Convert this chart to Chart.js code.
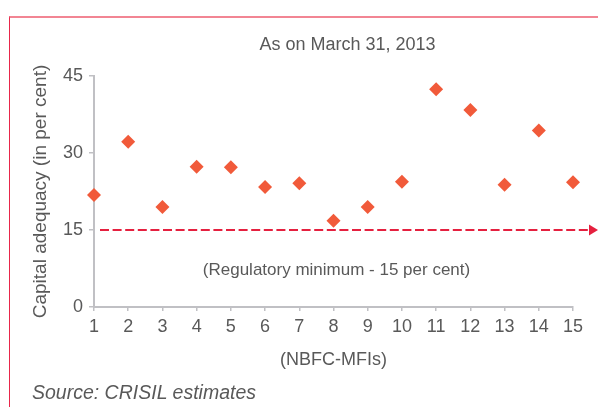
<!DOCTYPE html>
<html>
<head>
<meta charset="utf-8">
<script src="https://cdn.jsdelivr.net/npm/chart.js@4.4.0/dist/chart.umd.min.js"></script>
<style>
  html, body { margin: 0; padding: 0; background: #fff; }
  #wrap { position: relative; width: 598px; height: 407px; overflow: hidden; }
  /* red frame round the exhibit (only top and left are visible) */
  #frame { position: absolute; left: 9px; top: 16px; width: 620px; height: 420px;
           border-top: 2px solid #f28593; border-left: 1px solid #e8264a; }
  #my_chart { position: absolute; left: 0; top: 0; }
  #source { position: absolute; left: 32px; top: 381px; color: #595959;
            font: italic 19.5px "Liberation Sans", Arial, sans-serif; }
</style>
</head>
<body>
<div id="wrap">
  <div id="frame"></div>
  <canvas id="my_chart" width="598" height="407"></canvas>
  <div id="source">Source: CRISIL estimates</div>
</div>
<script>
  'use strict';

  // データ (NBFC-MFI 1..15)
  const categories = [1, 2, 3, 4, 5, 6, 7, 8, 9, 10, 11, 12, 13, 14, 15];
  const capitalAdequacy = [21.8, 32.2, 19.5, 27.3, 27.2, 23.4, 24.1, 16.8, 19.5, 24.4, 42.4, 38.4, 23.8, 34.4, 24.3];
  const yTicks = [0, 15, 30, 45];
  const regulatoryMin = 15;
  const regulatoryLabel = '(Regulatory minimum - 15 per cent)';
  const chartTitle = 'As on March 31, 2013';

  const FONT = '"Liberation Sans", Arial, sans-serif';
  const GREY_TEXT = '#595959';
  const AXIS_GREY = '#c0c0c4';

  // title + dashed 15% line with arrow head + its caption
  const minLinePlugin = {
    id: 'minLine',
    beforeDatasetsDraw(chart) {
      const ctx = chart.ctx;
      const area = chart.chartArea;
      const midX = (area.left + area.right) / 2;
      const y = chart.scales.y.getPixelForValue(regulatoryMin);
      const x0 = area.left + 6;
      const tip = chart.width;
      const x1 = tip - 9;
      ctx.save();
      ctx.strokeStyle = '#e5203f';
      ctx.lineWidth = 2.2;
      ctx.setLineDash([9, 3.6]);
      ctx.beginPath();
      ctx.moveTo(x0, y);
      ctx.lineTo(x1, y);
      ctx.stroke();
      ctx.setLineDash([]);
      ctx.fillStyle = '#e5203f';
      ctx.beginPath();
      ctx.moveTo(x1, y - 5.5);
      ctx.lineTo(tip, y);
      ctx.lineTo(x1, y + 5.5);
      ctx.closePath();
      ctx.fill();
      // caption
      ctx.fillStyle = GREY_TEXT;
      ctx.font = '17px ' + FONT;
      ctx.textAlign = 'center';
      ctx.textBaseline = 'middle';
      ctx.fillText(regulatoryLabel, midX + 3, y + 40);
      // chart title
      ctx.font = '18px ' + FONT;
      ctx.fillText(chartTitle, midX + 14, area.top - 31);
      ctx.restore();
    }
  };

  const points = categories.map((c, i) => ({ x: c, y: capitalAdequacy[i] }));

  const ctx = document.getElementById('my_chart').getContext('2d');
  const myChart = new Chart(ctx, {
    type: 'scatter',
    data: {
      datasets: [{
        data: points,
        pointStyle: 'rectRot',
        pointRadius: 7,
        pointBackgroundColor: '#f15a3a',
        pointBorderWidth: 0,
        clip: false
      }]
    },
    options: {
      responsive: false,
      animation: false,
      layout: { padding: { left: 25, right: 25, top: 76, bottom: 32 } },
      plugins: {
        legend: { display: false },
        tooltip: { enabled: false },
        title: { display: false }
      },
      scales: {
        x: {
          type: 'linear',
          min: 1,
          max: 15,
          afterBuildTicks: (scale) => { scale.ticks = categories.map(v => ({ value: v })); },
          afterFit: (scale) => { scale.height = 68; },
          grid: { drawOnChartArea: false, drawTicks: true, tickLength: 4, color: AXIS_GREY, lineWidth: 1.5 },
          border: { color: AXIS_GREY, width: 2 },
          ticks: { color: GREY_TEXT, font: { family: FONT, size: 18 }, padding: 5, maxRotation: 0, autoSkip: false },
          title: { display: true, text: '(NBFC-MFIs)', color: GREY_TEXT, font: { family: FONT, size: 18 } }
        },
        y: {
          min: 0,
          max: 45,
          afterBuildTicks: (scale) => { scale.ticks = yTicks.map(v => ({ value: v })); },
          afterFit: (scale) => { scale.width = 69; },
          grid: { drawOnChartArea: false, drawTicks: true, tickLength: 5, color: AXIS_GREY, lineWidth: 1.5 },
          border: { color: AXIS_GREY, width: 2 },
          ticks: { color: GREY_TEXT, font: { family: FONT, size: 18 }, padding: 6 },
          title: { display: true, text: 'Capital adequacy (in per cent)', color: GREY_TEXT, font: { family: FONT, size: 19 } }
        }
      }
    },
    plugins: [minLinePlugin]
  });
</script>
</body>
</html>
